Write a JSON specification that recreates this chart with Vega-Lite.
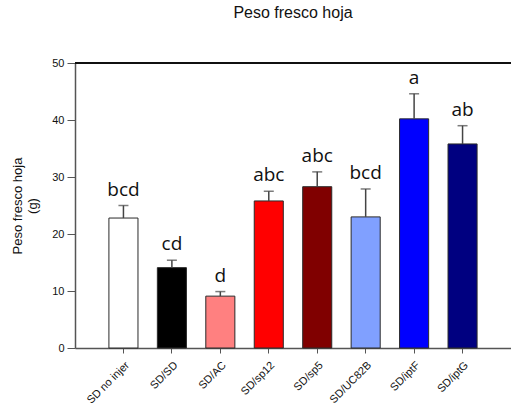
{
  "$schema": "https://vega.github.io/schema/vega-lite/v6.json",
  "width": 436,
  "height": 285,
  "autosize": "none",
  "padding": {"left": 75, "top": 63, "right": 0, "bottom": 57},
  "title": {"text": "Peso fresco hoja", "font": "Liberation Sans", "fontSize": 16, "fontWeight": "normal", "color": "#111", "frame": "group", "anchor": "middle", "offset": 36},
  "config": {"view": {"stroke": null}, "font": "Liberation Sans"},
  "data": {"values": [
    {"grupo": "SD no injer", "peso": 22.8, "err_top": 25.0, "letra": "bcd"},
    {"grupo": "SD/SD", "peso": 14.1, "err_top": 15.4, "letra": "cd"},
    {"grupo": "SD/AC", "peso": 9.1, "err_top": 9.9, "letra": "d"},
    {"grupo": "SD/sp12", "peso": 25.8, "err_top": 27.5, "letra": "abc"},
    {"grupo": "SD/sp5", "peso": 28.3, "err_top": 30.9, "letra": "abc"},
    {"grupo": "SD/UC82B", "peso": 23.0, "err_top": 27.9, "letra": "bcd"},
    {"grupo": "SD/iptF", "peso": 40.2, "err_top": 44.6, "letra": "a"},
    {"grupo": "SD/iptG", "peso": 35.8, "err_top": 39.0, "letra": "ab"}
  ]},
  "layer": [
    {
      "mark": {"type": "bar", "stroke": "#2a2a2a", "strokeWidth": 1},
      "encoding": {
        "x": {"field": "grupo", "type": "nominal", "sort": null,
          "scale": {"paddingInner": 0.4, "paddingOuter": 0.7},
          "axis": {"title": null, "labelAngle": -45, "labelFontSize": 11, "labelColor": "#111", "tickSize": 5, "tickColor": "#555", "domainColor": "#555", "domainWidth": 1.5, "labelPadding": 6}},
        "y": {"field": "peso", "type": "quantitative",
          "scale": {"domain": [0, 50], "nice": false},
          "axis": {"values": [0, 10, 20, 30, 40, 50], "grid": false, "title": ["Peso fresco hoja", "(g)"], "titleFontSize": 13, "titleFontWeight": "normal", "titleColor": "#111", "titlePadding": 12, "labelFontSize": 11, "labelColor": "#111", "tickSize": 8, "tickColor": "#555", "domainColor": "#555", "domainWidth": 1.5, "labelPadding": 3}},
        "color": {"field": "grupo", "type": "nominal", "legend": null,
          "scale": {"domain": ["SD no injer", "SD/SD", "SD/AC", "SD/sp12", "SD/sp5", "SD/UC82B", "SD/iptF", "SD/iptG"],
            "range": ["#ffffff", "#000000", "#ff8080", "#ff0000", "#800000", "#80a0ff", "#0000ff", "#000080"]}}
      }
    },
    {
      "mark": {"type": "rule", "color": "#444", "strokeWidth": 1.5},
      "encoding": {
        "x": {"field": "grupo", "type": "nominal", "sort": null},
        "y": {"field": "peso", "type": "quantitative"},
        "y2": {"field": "err_top"}
      }
    },
    {
      "mark": {"type": "tick", "color": "#444", "size": 10, "thickness": 1.5, "orient": "horizontal"},
      "encoding": {
        "x": {"field": "grupo", "type": "nominal", "sort": null},
        "y": {"field": "err_top", "type": "quantitative"}
      }
    },
    {
      "mark": {"type": "text", "font": "Open Sans", "fontSize": 19, "dy": -10, "baseline": "alphabetic", "color": "#111"},
      "encoding": {
        "x": {"field": "grupo", "type": "nominal", "sort": null},
        "y": {"field": "err_top", "type": "quantitative"},
        "text": {"field": "letra"}
      }
    },
    {
      "mark": {"type": "rule", "color": "#111", "strokeWidth": 1.5},
      "encoding": {"y": {"datum": 50}}
    }
  ]
}
